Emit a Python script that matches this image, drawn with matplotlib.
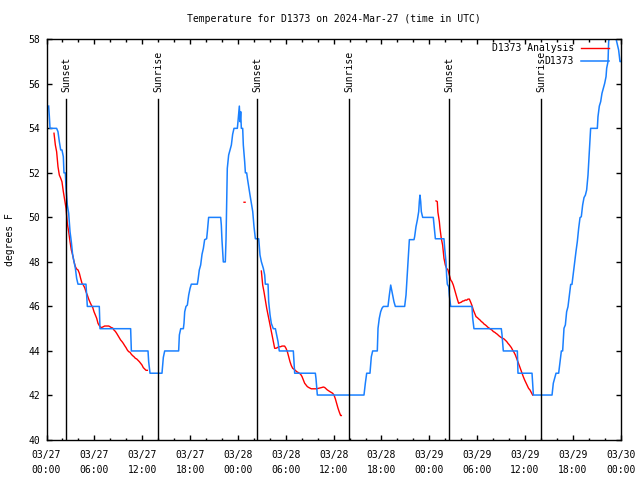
import numpy as np
import pandas as pd
import matplotlib
matplotlib.use("Agg")
import matplotlib.pyplot as plt

nan = np.nan
start = pd.Timestamp("2024-03-27 00:00")

# station obs, hours since 03/27 00:00 UTC -> deg F
obs_hours = [0.27, 0.36, 0.44, 1.27, 1.44, 1.61, 1.78, 1.94, 2.11, 2.19, 2.36, 2.45, 2.61, 2.78, 2.95,
             3.11, 3.28, 3.45, 3.62, 3.78, 3.95, 4.95, 5.04, 5.12, 6.62, 6.71, 10.55, 10.64, 12.73,
             12.81, 12.98, 14.48, 14.65, 14.82, 16.57, 16.66, 16.83, 17.16, 17.24, 17.33, 17.49,
             17.66, 17.83, 18.0, 18.16, 18.91, 19.0, 19.16, 19.33, 19.5, 19.67, 19.83, 20.08, 20.17,
             20.33, 21.84, 21.92, 22.0, 22.17, 22.42, 22.51, 22.67, 22.84, 23.01, 23.18, 23.34,
             23.51, 23.93, 24.01, 24.18, 24.27, 24.35, 24.43, 24.6, 24.68, 24.85, 24.94, 25.1,
             25.19, 25.35, 25.52, 25.69, 25.86, 26.02, 26.19, 26.61, 26.77, 26.94, 27.19, 27.36,
             27.44, 27.78, 27.86, 28.03, 28.19, 28.44, 28.7, 28.86, 29.03, 29.19, 30.95, 31.03,
             31.12, 33.71, 33.79, 33.96, 39.81, 39.98, 40.15, 40.56, 40.73, 40.9, 41.48, 41.57,
             41.73, 41.9, 42.07, 42.24, 42.82, 42.99, 43.16, 43.24, 43.41, 43.57, 43.74, 44.91,
             45.08, 45.25, 45.41, 45.5, 46.08, 46.16, 46.33, 46.5, 46.67, 46.75, 46.83, 46.92,
             47.0, 47.17, 48.5, 48.59, 48.76, 49.84, 49.93, 50.09, 50.18, 50.26, 50.43, 50.51,
             50.68, 53.35, 53.44, 53.6, 57.03, 57.12, 57.28, 59.04, 59.12, 60.88, 61.05, 63.39,
             63.55, 63.72, 63.89, 64.22, 64.39, 64.56, 64.72, 64.89, 65.06, 65.22, 65.39, 65.56,
             65.73, 65.89, 66.06, 66.23, 66.39, 66.56, 66.73, 66.9, 67.06, 67.23, 67.4, 67.57,
             67.73, 67.9, 68.07, 68.23, 69.07, 69.15, 69.32, 69.49, 69.65, 69.82, 69.99, 70.16,
             70.24, 70.41, 70.49, 70.9, 71.3, 71.49, 71.74, 71.91, 72.0]
obs_temps = [55.0, 54.52, 54.0, 54.0, 53.85, 53.4, 53.03, 53.03, 52.73, 52.0, 52.0, 51.31, 50.56,
             50.18, 49.36, 48.91, 48.31, 48.01, 47.71, 47.26, 47.0, 47.0, 46.51, 46.0, 46.0, 45.0,
             45.0, 44.0, 44.0, 43.52, 43.0, 43.0, 43.71, 44.0, 44.0, 44.72, 45.0, 45.0, 45.24,
             45.76, 46.0, 46.06, 46.51, 46.81, 47.0, 47.0, 47.19, 47.64, 47.86, 48.34, 48.61, 49.0,
             49.04, 49.36, 50.0, 50.0, 49.66, 49.0, 48.0, 48.0, 49.0, 52.2, 52.8, 53.03, 53.25,
             53.73, 54.0, 54.0, 54.3, 55.0, 54.3, 54.75, 54.0, 54.0, 53.25, 52.5, 52.0, 52.0,
             51.76, 51.38, 51.0, 50.63, 50.26, 49.58, 49.04, 49.04, 48.31, 48.01, 47.71, 47.41,
             47.0, 47.0, 46.21, 45.62, 45.24, 45.0, 45.0, 44.72, 44.42, 44.0, 44.0, 43.52, 43.0,
             43.0, 42.77, 42.02, 42.02, 42.55, 43.0, 43.0, 43.74, 44.0, 44.0, 45.02, 45.47, 45.76,
             45.92, 46.0, 46.0, 46.51, 46.96, 46.81, 46.51, 46.21, 46.0, 46.0, 46.51, 47.49, 48.49,
             49.0, 49.0, 49.13, 49.58, 49.88, 50.26, 50.71, 51.0, 50.71, 50.26, 50.0, 50.0, 49.66,
             49.04, 49.04, 48.61, 48.01, 47.34, 47.0, 46.89, 46.51, 46.0, 46.0, 45.47, 45.0, 45.0,
             44.72, 44.0, 44.0, 43.0, 43.0, 42.02, 42.02, 42.55, 42.77, 43.0, 43.0, 43.52, 44.0,
             44.0, 45.02, 45.17, 45.76, 45.99, 46.51, 46.99, 46.99, 47.49, 48.01, 48.46, 48.91,
             49.51, 49.99, 50.03, 50.56, 50.89, 51.0, 51.23, 51.9, 52.95, 54.0, 54.0, 54.52, 55.0,
             55.2, 55.57, 55.8, 56.02, 56.32, 56.7, 57.0, 57.9, 58.6, 58.2, 57.9, 57.52, 57.0, 57.0]

# analysis, nan = gap between runs
ana_hours = [0.94, 1.11, 1.27, 1.36, 1.44, 1.61, 1.78, 1.94, 2.11, 2.28, 2.45, 2.61, 2.78, 2.95,
             3.11, 3.28, 3.45, 3.62, 3.78, 3.95, 4.12, 4.28, 4.45, 4.62, 4.79, 4.95, 5.12, 5.29,
             5.45, 5.62, 5.79, 5.96, 6.12, 6.29, 6.46, 6.62, 6.79, 6.96, 7.13, 7.29, 7.46, 7.63,
             7.8, 7.96, 8.13, 8.3, 8.46, 8.63, 8.8, 8.97, 9.13, 9.3, 9.47, 9.63, 9.8, 9.97, 10.14,
             10.3, 10.47, 10.64, 10.8, 10.97, 11.14, 11.31, 11.47, 11.64, 11.81, 11.97, 12.14,
             12.31, 12.48, 12.64, nan,
             24.77, 24.9, nan,
             26.94, 27.11, 27.27, 27.44, 27.61, 27.78, 27.94, 28.11, 28.28, 28.44, 28.61, 28.78,
             28.95, 29.11, 29.36, 29.53, 29.86, 30.03, 30.2, 30.37, 30.53, 30.7, 30.87, 31.03,
             31.2, 31.37, 31.53, 31.7, 31.87, 32.04, 32.2, 32.37, 32.54, 32.7, 32.87, 33.04, 33.2,
             33.54, 33.87, 34.21, 34.54, 34.71, 34.88, 35.05, 35.21, 35.55, 35.88, 36.05, 36.22,
             36.38, 36.55, 36.72, 36.88, 36.97, nan,
             48.84, 49.0, 49.08, 49.26, 49.34, 49.5, 49.67, 49.84, 50.01, 50.17, 50.34, 50.51,
             50.68, 50.84, 51.01, 51.18, 51.35, 51.51, 51.68, 51.85, 52.01, 52.18, 52.35, 52.52,
             52.68, 52.85, 53.02, 53.19, 53.35, 53.52, 53.69, 53.86, 54.02, 54.19, 54.36, 54.53,
             54.69, 54.86, 55.03, 55.19, 55.36, 55.53, 55.7, 55.86, 56.03, 56.2, 56.37, 56.53,
             56.7, 56.87, 57.04, 57.2, 57.37, 57.54, 57.71, 57.87, 58.04, 58.29, 58.45, 58.62,
             58.79, 58.95, 59.12, 59.29, 59.45, 59.62, 59.79, 59.95, 60.12, 60.29, 60.45, 60.62,
             60.79, 60.96]
ana_temps = [53.78, 53.25, 52.95, 52.58, 52.28, 51.9, 51.76, 51.6, 51.16, 50.78, 50.41, 49.73,
             49.36, 48.91, 48.54, 48.31, 48.01, 47.79, 47.68, 47.64, 47.49, 47.26, 47.04, 46.96,
             46.84, 46.66, 46.51, 46.33, 46.19, 46.06, 45.96, 45.76, 45.62, 45.47, 45.24, 45.14,
             45.06, 45.06, 45.09, 45.12, 45.12, 45.12, 45.12, 45.09, 45.05, 45.03, 44.94, 44.88,
             44.79, 44.69, 44.6, 44.49, 44.42, 44.34, 44.24, 44.15, 44.04, 43.97, 43.94, 43.85,
             43.79, 43.74, 43.67, 43.64, 43.58, 43.52, 43.44, 43.37, 43.25, 43.19, 43.13, 43.13, nan,
             50.68, 50.68, nan,
             47.59, 46.96, 46.66, 46.29, 45.92, 45.62, 45.32, 45.02, 44.72, 44.42, 44.12, 44.12,
             44.15, 44.19, 44.19, 44.22, 44.22, 44.12, 43.97, 43.74, 43.52, 43.34, 43.22, 43.18,
             43.13, 43.07, 43.04, 43.0, 42.95, 42.85, 42.7, 42.55, 42.47, 42.4, 42.36, 42.33, 42.3,
             42.3, 42.3, 42.33, 42.36, 42.38, 42.36, 42.3, 42.25, 42.17, 42.1, 42.02, 41.85,
             41.65, 41.43, 41.25, 41.1, 41.1, nan,
             50.74, 50.71, 50.23, 49.81, 49.51, 49.06, 48.76, 48.16, 47.86, 47.71, 47.64, 47.41,
             47.19, 47.11, 46.96, 46.74, 46.51, 46.33, 46.14, 46.17, 46.19, 46.24, 46.25, 46.29,
             46.28, 46.33, 46.33, 46.19, 46.04, 45.84, 45.69, 45.54, 45.5, 45.44, 45.39, 45.32,
             45.28, 45.21, 45.17, 45.12, 45.06, 45.02, 44.97, 44.94, 44.87, 44.84, 44.79, 44.75,
             44.69, 44.64, 44.6, 44.57, 44.54, 44.48, 44.42, 44.34, 44.27, 44.15, 44.04, 43.94,
             43.82, 43.67, 43.52, 43.34, 43.18, 43.0, 42.84, 42.7, 42.57, 42.44, 42.32, 42.25,
             42.14, 42.02]

sun_labels = ["Sunset", "Sunrise", "Sunset", "Sunrise", "Sunset", "Sunrise"]
sun_times = ["2024-03-27 02:27", "2024-03-27 14:01", "2024-03-28 02:26",
             "2024-03-28 13:58", "2024-03-29 02:31", "2024-03-29 14:02"]

mono = "DejaVu Sans Mono"
fs = 7

fig = plt.figure(figsize=(6.4, 4.8), dpi=100)
ax = fig.add_axes([46.5 / 640, 40 / 480, 574.2 / 640, 400.7 / 480])

ax.plot(ana_hours, ana_temps, color="#ff0000", lw=1.0, label="D1373 Analysis")
ax.plot(obs_hours, obs_temps, color="#1a80ff", lw=1.1, label="D1373")

for name, ts in zip(sun_labels, sun_times):
    h = (pd.Timestamp(ts) - start) / pd.Timedelta(hours=1)
    ax.axvline(h, ymin=0, ymax=0.851, color="black", lw=1.0)
    ax.text(h, 0.868, name, transform=ax.get_xaxis_transform(), rotation=90,
            ha="center", va="bottom", family=mono, fontsize=fs)

ax.set_xlim(0, 72)
ax.set_ylim(40, 58)

major = np.arange(0, 73, 6)
labels = pd.date_range(start, periods=len(major), freq="6h").strftime("%m/%d\n%H:%M")
ax.set_xticks(major, list(labels))
ax.set_xticks(np.arange(0, 73, 2), minor=True)
ax.set_yticks(np.arange(40, 59, 2))
for lbl in ax.get_xticklabels():
    lbl.set_linespacing(1.55)

ax.tick_params(which="both", direction="in", top=True, right=True, width=1.0)
ax.tick_params(which="major", length=3.3)
ax.tick_params(which="minor", length=1.8)
ax.tick_params(axis="x", pad=7.5)
ax.tick_params(axis="y", pad=4.5)
for lbl in ax.get_xticklabels() + ax.get_yticklabels():
    lbl.set_family(mono)
    lbl.set_fontsize(fs)

for sp in ax.spines.values():
    sp.set_linewidth(1.0)

fig.text(333.6 / 640, 1 - 19 / 480, "Temperature for D1373 on 2024-Mar-27 (time in UTC)",
         ha="center", va="center", family=mono, fontsize=fs)
fig.text(10 / 640, 1 - 240 / 480, "degrees F", rotation=90, ha="center", va="center",
         family=mono, fontsize=fs)

ax.legend(loc="upper right", bbox_to_anchor=(0.9796, 0.990), frameon=False,
          markerfirst=False, borderpad=0, borderaxespad=0, handlelength=2.9,
          handletextpad=0.72, labelspacing=0.3, prop={"family": mono, "size": fs})

fig.savefig("out.png", dpi=100)
